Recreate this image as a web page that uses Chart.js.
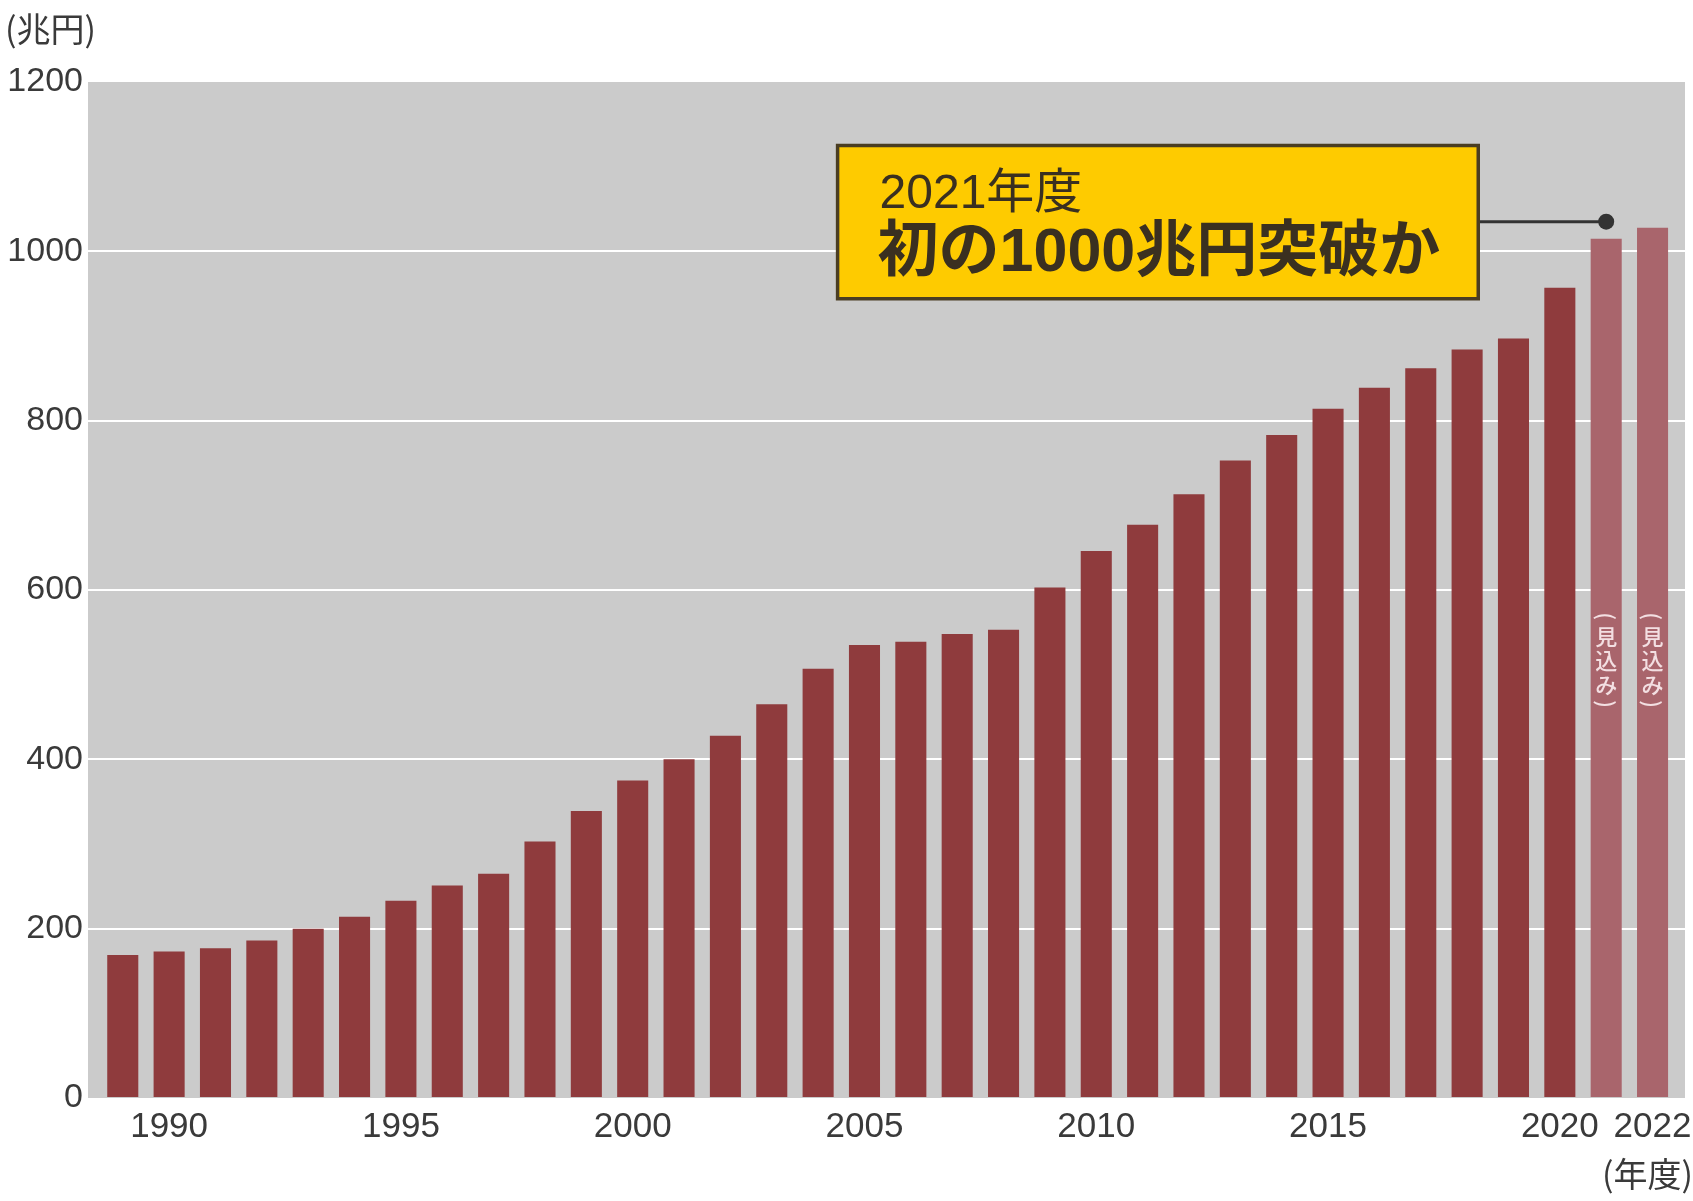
<!DOCTYPE html>
<html lang="ja">
<head>
<meta charset="utf-8">
<title>国の借金の推移</title>
<script src="https://cdn.jsdelivr.net/npm/chart.js@4"></script>
<style>
  html, body { margin: 0; padding: 0; background: #fff; overflow: hidden; }
  canvas { display: block; }
</style>
</head>
<body>
<canvas id="chart" width="1693" height="1201"></canvas>
<script>
// data (兆円)
const years = [1989, 1990, 1991, 1992, 1993, 1994, 1995, 1996, 1997, 1998,
               1999, 2000, 2001, 2002, 2003, 2004, 2005, 2006, 2007, 2008,
               2009, 2010, 2011, 2012, 2013, 2014, 2015, 2016, 2017, 2018,
               2019, 2020, 2021, 2022];
const debt = [169, 173, 177, 186, 200, 214, 233, 251, 265, 303,
              339, 375, 400, 428, 465, 507, 535, 539, 548, 553,
              603, 646, 677, 713, 753, 783, 814, 839, 862, 884,
              897, 957, 1015, 1028];
const estimateYears = [2021, 2022];
const xTickYears = [1990, 1995, 2000, 2005, 2010, 2015, 2020, 2022];
const yTicks = [0, 200, 400, 600, 800, 1000, 1200];

const calloutTitle = '2021年度';
const calloutText = '初の1000兆円突破か';
const calloutYear = 2021;
const estimateLabel = ['見', '込', 'み'];

const DARK = '#8f3b3d';
const LIGHT = '#a9656c';
const TEXT = '#3a3a3a';
const LATIN = '"Liberation Sans", Arial, sans-serif';
const CJK = '"Noto Sans CJK JP", sans-serif';
const MIXED = '"Liberation Sans", "Noto Sans CJK JP", sans-serif';

const plotBg = {
    id: 'plotBg',
    beforeDraw(chart) {
        const { ctx, chartArea: a } = chart;
        ctx.save();
        ctx.fillStyle = '#cbcbcb';
        ctx.fillRect(a.left, a.top, a.right - a.left, a.bottom - a.top);
        ctx.restore();
    }
};

const extras = {
    id: 'extras',
    afterDatasetsDraw(chart) {
        const { ctx } = chart;
        const x = chart.scales.x, y = chart.scales.y;

        // 見込み, written vertically in the estimate bars
        ctx.save();
        ctx.fillStyle = '#f3dfe2';
        ctx.font = '500 22px ' + CJK;
        ctx.textAlign = 'center';
        ctx.textBaseline = 'middle';
        estimateYears.forEach(yr => {
            const cx = x.getPixelForValue(yr);
            const cy = y.getPixelForValue(517);
            const rot = (ch, py) => {
                ctx.save();
                ctx.translate(cx, py);
                ctx.rotate(Math.PI / 2);
                ctx.fillText(ch, 0, 0);
                ctx.restore();
            };
            rot('(', cy - 44);
            estimateLabel.forEach((ch, i) => ctx.fillText(ch, cx, cy - 24 + i * 24));
            rot(')', cy + 44);
        });
        ctx.restore();

        // callout box
        const bx0 = x.getPixelForValue(2004.42), bx1 = x.getPixelForValue(2018.24);
        const by0 = y.getPixelForValue(1125), by1 = y.getPixelForValue(944);
        const ly = y.getPixelForValue(1035);
        const dx = x.getPixelForValue(calloutYear);

        ctx.save();
        ctx.strokeStyle = '#333';
        ctx.lineWidth = 3;
        ctx.beginPath();
        ctx.moveTo(bx1, ly);
        ctx.lineTo(dx, ly);
        ctx.stroke();
        ctx.fillStyle = '#333';
        ctx.beginPath();
        ctx.arc(dx, ly, 8, 0, Math.PI * 2);
        ctx.fill();

        ctx.fillStyle = '#fecb00';
        ctx.fillRect(bx0, by0, bx1 - bx0, by1 - by0);
        ctx.strokeStyle = '#4a3d22';
        ctx.lineWidth = 3.5;
        ctx.strokeRect(bx0, by0, bx1 - bx0, by1 - by0);

        ctx.fillStyle = '#3a3020';
        ctx.textAlign = 'left';
        ctx.textBaseline = 'middle';
        ctx.font = '48px ' + MIXED;
        ctx.fillText(calloutTitle, bx0 + 42, by0 + 49);
        ctx.font = 'bold 61px ' + MIXED;
        ctx.fillText(calloutText, bx0 + 40, by0 + 109);
        ctx.restore();
    },
    afterDraw(chart) {
        const { ctx } = chart;
        ctx.save();
        ctx.fillStyle = TEXT;
        ctx.font = '34px ' + CJK;
        ctx.textBaseline = 'middle';
        ctx.textAlign = 'left';
        ctx.fillText('(兆円)', 5, 29);
        ctx.textAlign = 'right';
        ctx.fillText('(年度)', 1693, 1174);
        ctx.restore();
    }
};

new Chart(document.getElementById('chart'), {
    type: 'bar',
    data: {
        datasets: [{
            data: years.map((yr, i) => ({ x: yr, y: debt[i] })),
            backgroundColor: years.map(yr => estimateYears.includes(yr) ? LIGHT : DARK),
            borderWidth: 0,
            barPercentage: 0.67,
            categoryPercentage: 1
        }]
    },
    options: {
        responsive: false,
        animation: false,
        devicePixelRatio: 1,
        layout: { padding: { top: 82, right: 8, left: 0, bottom: 0 } },
        plugins: { legend: { display: false }, tooltip: { enabled: false } },
        scales: {
            x: {
                type: 'linear',
                offset: false,
                min: 1988.25,
                max: 2022.7,
                grid: { display: false, offset: false },
                border: { display: false },
                afterBuildTicks: s => { s.ticks = xTickYears.map(v => ({ value: v })); },
                afterFit: s => { s.height = 103; s.paddingLeft = 0; s.paddingRight = 0; },
                ticks: {
                    autoSkip: false,
                    maxRotation: 0,
                    padding: 0,
                    color: TEXT,
                    font: { family: LATIN, size: 35 },
                    callback: v => String(v)
                }
            },
            y: {
                min: 0,
                max: 1200,
                afterBuildTicks: s => { s.ticks = yTicks.map(v => ({ value: v })); },
                afterFit: s => { s.width = 88; },
                grid: {
                    color: c => (c.tick && (c.tick.value === 0 || c.tick.value === 1200)) ? 'rgba(0,0,0,0)' : '#ffffff',
                    lineWidth: 2,
                    drawTicks: false
                },
                border: { display: false },
                ticks: {
                    padding: 5,
                    color: TEXT,
                    font: { family: LATIN, size: 34 },
                    callback: v => String(v)
                }
            }
        }
    },
    plugins: [plotBg, extras]
});
</script>
</body>
</html>
